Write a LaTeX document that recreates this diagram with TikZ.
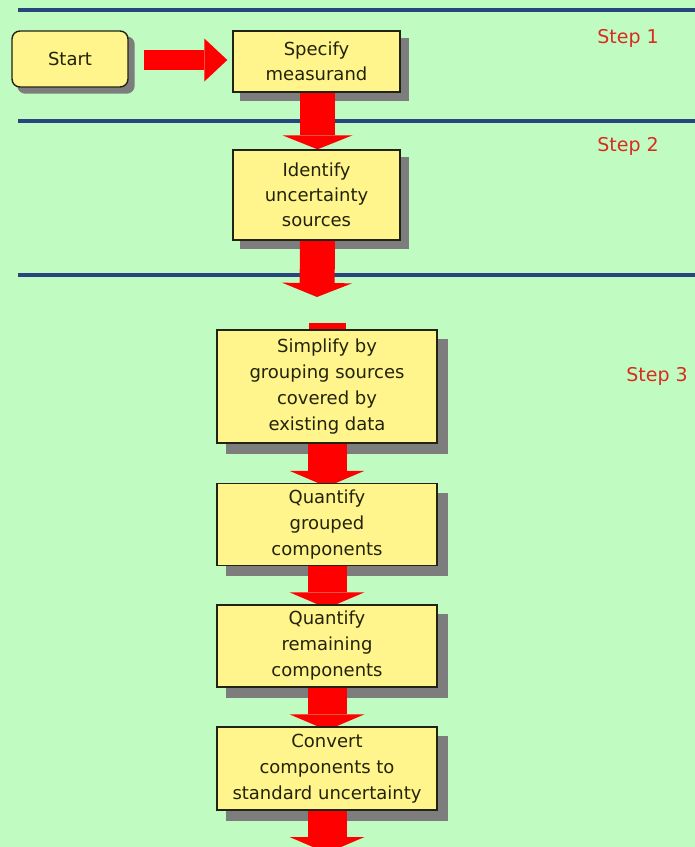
\documentclass[tikz,border=0pt]{standalone}
\usepackage{fontspec}
\setmainfont{DejaVu Sans}
\usetikzlibrary{arrows.meta,calc}
\definecolor{bgc}{RGB}{192,252,194}
\definecolor{boxc}{RGB}{255,245,140}
\definecolor{edgec}{RGB}{35,35,20}
\definecolor{shadc}{RGB}{125,125,125}
\definecolor{linec}{RGB}{40,70,125}
\definecolor{arrc}{RGB}{255,0,0}
\definecolor{stepc}{RGB}{215,45,30}
\definecolor{textc}{RGB}{35,35,10}
\pgfdeclarelayer{bg}
\pgfdeclarelayer{mid}
\pgfsetlayers{bg,mid,main}
\tikzset{
  box/.style={draw=edgec, line width=1.4pt, fill=boxc, inner sep=0pt, align=center,
    font=\fontsize{18}{25}\selectfont, text=textc},
  startbox/.style={box, rounded corners=8pt},
  steplabel/.style={text=stepc, font=\fontsize{19}{23}\selectfont, inner sep=0pt},
  sepline/.style={draw=linec, line width=3.4pt},
  shadow/.style={fill=shadc},
  upflow/.style={draw=arrc, line width=35pt,
    -{Triangle[width=70pt,length=14pt,line width=0pt,fill=arrc]}},
  lowflow/.style={draw=arrc, line width=39pt,
    -{Triangle[width=75pt,length=16pt,line width=0pt,fill=arrc]}},
  sideflow/.style={draw=arrc, line width=20pt,
    -{Triangle[width=43pt,length=23pt,line width=0pt,fill=arrc]}}
}
\begin{document}
\begin{tikzpicture}[x=1pt,y=-1pt]
\useasboundingbox (0,0) rectangle (695,847);
\clip (0,0) rectangle (695,847);
\begin{pgfonlayer}{bg}
  \fill[bgc] (0,0) rectangle (695,847);
  \draw[sepline] (18,10) -- (695,10);
  \draw[sepline] (18,121) -- (695,121);
  \draw[sepline] (18,275) -- (695,275);
\end{pgfonlayer}

% boxes
\node[startbox, minimum width=116pt, minimum height=56pt] (start) at (70,59) {Start};
\node[box, minimum width=167pt, minimum height=61pt] (spec) at (316.5,61.5) {Specify\\measurand};
\node[box, minimum width=167pt, minimum height=90pt] (ident) at (316.5,195) {Identify\\uncertainty\\sources};
\node[box, minimum width=220pt, minimum height=113pt, font=\fontsize{18}{26}\selectfont] (simp) at (327,386.5) {Simplify by\\grouping sources\\covered by\\existing data};
\node[box, minimum width=220pt, minimum height=82pt, font=\fontsize{18}{26}\selectfont] (qg) at (327,524.5) {Quantify\\grouped\\components};
\node[box, minimum width=220pt, minimum height=82pt, font=\fontsize{18}{26}\selectfont] (qr) at (327,646) {Quantify\\remaining\\components};
\node[box, minimum width=220pt, minimum height=83pt, font=\fontsize{18}{26}\selectfont] (conv) at (327,768.5) {Convert\\components to\\standard uncertainty};

% step labels
\node[steplabel] (step1) at (628,38) {Step 1};
\node[steplabel] (step2) at (628,146) {Step 2};
\node[steplabel] (step3) at (657,376) {Step 3};

% shadows
\begin{pgfonlayer}{bg}
  \fill[shadow, rounded corners=8pt] ($(start.south west)+(6,6)$) rectangle ($(start.north east)+(6,6)$);
  \foreach \n in {spec,ident} {
    \fill[shadow] ($(\n.south west)+(8,8)$) rectangle ($(\n.north east)+(8,8)$);
  }
  \foreach \n in {simp,qg,qr,conv} {
    \fill[shadow] ($(\n.south west)+(10,10)$) rectangle ($(\n.north east)+(10,10)$);
  }
\end{pgfonlayer}

% connectors
\coordinate (ra) at ($(start.east)+(15,1)$);
\coordinate (identout) at (317,297);
\coordinate (simpin) at (327,323);
\coordinate (convout) at (327,853);
\begin{pgfonlayer}{mid}
  \draw[sideflow] (ra) -- ($(ra -| spec.west)+(-5,0)$);
  \draw[upflow] ($(spec.south)+(1,0)$) -- ($(ident.north)+(1,0)$);
  \draw[upflow] ($(ident.south)+(1,0)$) -- (identout);
  \draw[draw=arrc, line width=37pt] (simpin) -- ($(simp.north)+(0,20)$);
  \draw[lowflow] (simp.south) -- ($(qg.north)+(0,4)$);
  \draw[lowflow] (qg.south) -- ($(qr.north)+(0,4)$);
  \draw[lowflow] (qr.south) -- ($(conv.north)+(0,4)$);
  \draw[lowflow] (conv.south) -- (convout);
\end{pgfonlayer}
\end{tikzpicture}
\end{document}
